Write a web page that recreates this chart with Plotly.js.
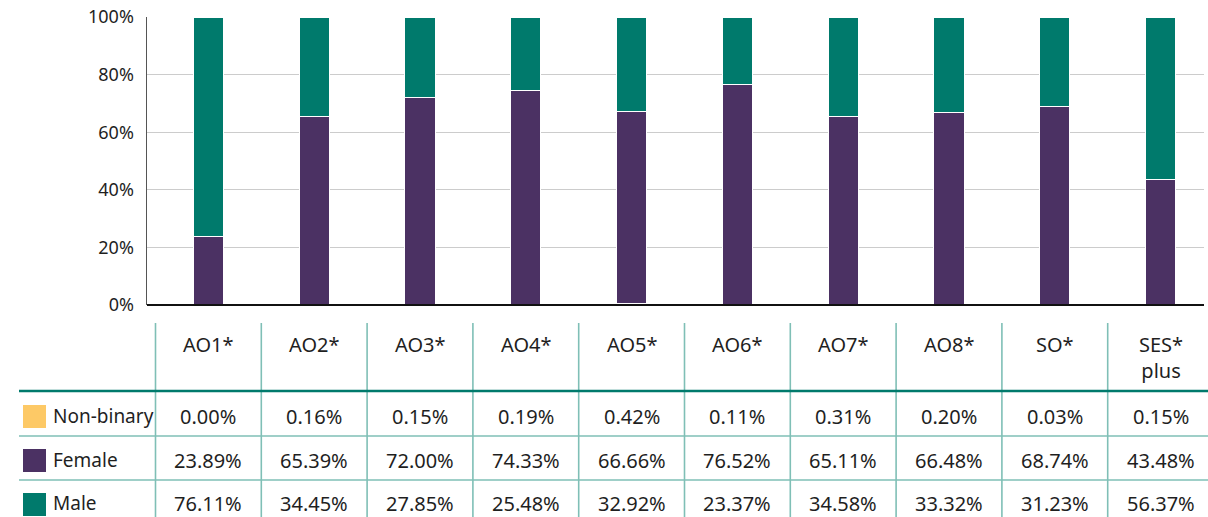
<!DOCTYPE html>
<html>
<head>
<meta charset="utf-8">
<script src="https://cdn.plot.ly/plotly-3.0.1.min.js"></script>
<style>
html,body{margin:0;padding:0;background:#fff;}
#chart{width:1208px;height:517px;}
</style>
</head>
<body>
<div id="chart"></div>
<script>
// ---- data ----
const categories = ['AO1*','AO2*','AO3*','AO4*','AO5*','AO6*','AO7*','AO8*','SO*','SES*<br>plus'];
const nonBinary = [0.00, 0.16, 0.15, 0.19, 0.42, 0.11, 0.31, 0.20, 0.03, 0.15];
const female    = [23.89, 65.39, 72.00, 74.33, 66.66, 76.52, 65.11, 66.48, 68.74, 43.48];
const male      = [76.11, 34.45, 27.85, 25.48, 32.92, 23.37, 34.58, 33.32, 31.23, 56.37];
const seriesNames = ['Non-binary', 'Female', 'Male'];
const yTicks = [0, 20, 40, 60, 80, 100];
const yTickText = ['0%', '20%', '40%', '60%', '80%', '100%'];

// ---- style ----
const colors = {'Non-binary':'#fdc966', 'Female':'#4b3163', 'Male':'#007a6c'};
const W = 1208, H = 517;
const plotL = 147, plotR = 1204, plotT = 17, plotB = 305;
const colW = 105.8, firstColLeft = 155.5;
const FONT = 'Noto Sans, sans-serif';
const textColor = '#1f1f1f';

const px2x = X => (X - plotL) / (plotR - plotL);
const px2y = Y => (plotB - Y) / (plotB - plotT);

const xIdx = categories.map((c, i) => i);
const xLeft = -0.5 - (firstColLeft - plotL) / colW;
const xRight = xLeft + (plotR - plotL) / colW;

const seriesVals = [nonBinary, female, male];
const traces = seriesNames.map((name, s) => ({
  type: 'bar',
  name: name,
  x: xIdx,
  y: seriesVals[s],
  width: 0.284,
  marker: {color: colors[name], line: {color: '#ffffff', width: 1}},
  hoverinfo: 'skip'
}));

const shapes = [];
const annotations = [];

// table vertical lines
for (let i = 0; i < categories.length; i++) {
  const X = firstColLeft + colW * i;
  shapes.push({type:'line', xref:'paper', yref:'paper',
    x0: px2x(X), x1: px2x(X), y0: px2y(323), y1: px2y(517),
    line:{color:'#7fbfb6', width:1.6}});
}
// horizontal lines
shapes.push({type:'line', xref:'paper', yref:'paper',
  x0: px2x(19), x1: px2x(1210), y0: px2y(391), y1: px2y(391),
  line:{color:'#007a6c', width:2.6}});
[436, 480].forEach(Y => shapes.push({type:'line', xref:'paper', yref:'paper',
  x0: px2x(19), x1: px2x(1210), y0: px2y(Y), y1: px2y(Y),
  line:{color:'#7fbfb6', width:1.6}}));

// header labels
categories.forEach((c, i) => {
  const Xc = firstColLeft + colW * (i + 0.5);
  annotations.push({xref:'paper', yref:'paper', x: px2x(Xc), y: px2y(329),
    xanchor:'center', yanchor:'top', text: c, showarrow:false, align:'center',
    font:{family:FONT, size:20, color:textColor}});
});

// rows
const rowCenters = [416, 460, 503];
const swatchTop = [405, 449, 493];
seriesNames.forEach((name, r) => {
  shapes.push({type:'rect', xref:'paper', yref:'paper',
    x0: px2x(23), x1: px2x(46), y0: px2y(swatchTop[r]), y1: px2y(swatchTop[r] + 23),
    fillcolor: colors[name], line:{width:0}});
  annotations.push({xref:'paper', yref:'paper', x: px2x(51), y: px2y(rowCenters[r]),
    xanchor:'left', yanchor:'middle', text: name, showarrow:false,
    font:{family:FONT, size:19, color:textColor}});
  seriesVals[r].forEach((v, i) => {
    const Xc = firstColLeft + colW * (i + 0.5);
    annotations.push({xref:'paper', yref:'paper', x: px2x(Xc), y: px2y(rowCenters[r]),
      xanchor:'center', yanchor:'middle', text: v.toFixed(2) + '%', showarrow:false,
      font:{family:FONT, size:20, color:textColor}});
  });
});

const layout = {
  width: W, height: H,
  margin: {l: plotL, r: W - plotR, t: plotT, b: H - plotB, pad: 0},
  paper_bgcolor: '#ffffff', plot_bgcolor: '#ffffff',
  barmode: 'stack',
  showlegend: false,
  font: {family: FONT, color: textColor},
  xaxis: {range: [xLeft, xRight], showticklabels: false, ticks: '', showgrid: false,
    zeroline: false, showline: false, fixedrange: true},
  yaxis: {range: [0, 100], tickvals: yTicks, ticktext: yTickText, ticks: '',
    showgrid: true, gridcolor: '#cccccc', gridwidth: 1, zeroline: false,
    showline: true, linecolor: '#555555', linewidth: 1.5, ticklabelstandoff: 8,
    tickfont: {family: FONT, size: 18, color: textColor}, fixedrange: true},
  shapes: shapes.concat([{type:'line', xref:'paper', yref:'paper', x0:0, x1:1, y0:0, y1:0,
    line:{color:'#111111', width:2}}]),
  annotations: annotations
};

Plotly.newPlot('chart', traces, layout, {staticPlot: true, displayModeBar: false});
</script>
</body>
</html>
